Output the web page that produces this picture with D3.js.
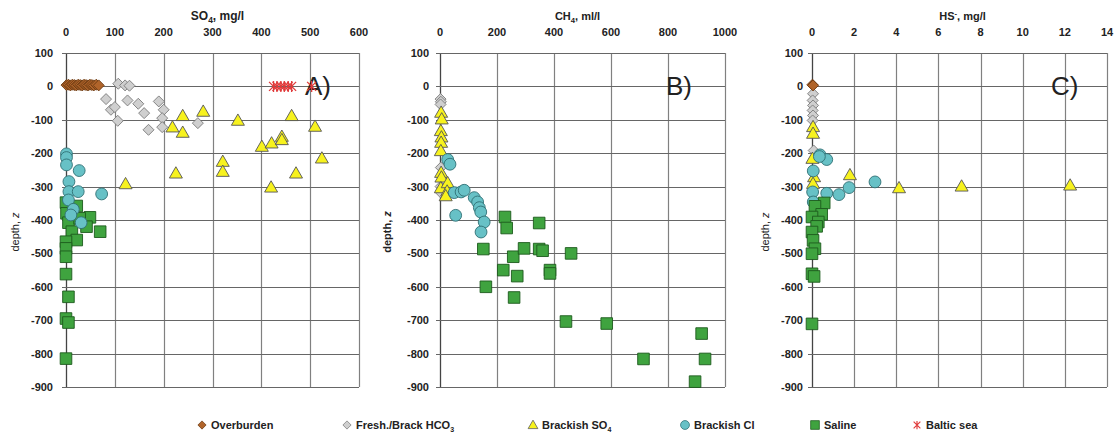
<!DOCTYPE html>
<html>
<head>
<meta charset="utf-8">
<script src="https://cdn.jsdelivr.net/npm/d3@7"></script>
<style>
  body { margin: 0; background: #fff; }
  text { font-family: "Liberation Sans", Arial, sans-serif; fill: #222; }
</style>
</head>
<body>
<div id="chart"></div>
<script>
// values: [concentration, depth]
var so4Overburden = [[1,4],[5,5],[9,3],[13,5],[17,4],[21,3],[25,5],[29,4],[33,3],[37,5],[41,4],[45,3],[49,5],[53,4],[57,3],[62,5],[67,3]];
var so4Fresh = [[107,8],[121,3],[130,2],[82,-38],[92,-70],[100,-62],[106,-103],[126,-42],[148,-52],[160,-80],[169,-130],[190,-45],[200,-70],[197,-95],[197,-122],[270,-110]];
var so4Brackish = [[239,-88],[281,-75],[218,-122],[239,-138],[352,-102],[462,-88],[510,-120],[401,-180],[421,-170],[442,-150],[442,-160],[524,-215],[321,-225],[321,-255],[225,-260],[471,-260],[122,-292],[420,-302]];
var so4Cl = [[1,-202],[1,-213],[1,-235],[27,-252],[6,-285],[6,-315],[25,-315],[73,-322],[5,-340],[15,-368],[10,-385],[31,-408]];
var so4Saline = [[0,-348],[22,-358],[1,-380],[5,-408],[49,-392],[42,-420],[28,-395],[12,-435],[22,-460],[70,-435],[0,-465],[0,-485],[0,-510],[0,-562],[5,-630],[0,-695],[5,-707],[0,-815]];
var so4Baltic = [[425,0],[432,0],[440,0],[447,0],[455,0],[462,0],[503,0]];

var ch4Fresh = [[2,-38],[3,-46],[2,-54],[3,-243],[2,-300],[3,-318]];
var ch4Brackish = [[4,-78],[6,-98],[3,-133],[5,-152],[4,-168],[3,-193],[4,-258],[5,-272],[3,-304],[27,-289],[25,-314],[20,-328]];
var ch4Cl = [[27,-219],[35,-233],[50,-318],[74,-316],[85,-311],[120,-333],[132,-346],[138,-363],[143,-376],[155,-406],[144,-436],[55,-386]];
var ch4Saline = [[152,-487],[161,-600],[228,-391],[234,-424],[222,-550],[257,-510],[295,-485],[271,-568],[260,-632],[348,-409],[348,-487],[360,-492],[386,-550],[386,-560],[460,-500],[442,-704],[585,-710],[714,-816],[918,-740],[930,-816],[895,-884]];

var hsOverburden = [[0.02,5],[0.05,3]];
var hsFresh = [[0.05,-22],[0.03,-42],[0.05,-57],[0.03,-72],[0.05,-87],[0.03,-102],[0.08,-192]];
var hsBrackish = [[0.05,-121],[0.05,-141],[0.02,-216],[0.1,-271],[0.05,-291],[1.8,-265],[4.13,-304],[7.1,-299],[12.25,-296]];
var hsCl = [[0.38,-205],[0.7,-219],[0.35,-210],[0.06,-253],[0.03,-316],[0.7,-320],[1.28,-324],[1.76,-303],[2.99,-286],[0.06,-346]];
var hsSaline = [[0.58,-349],[0.14,-359],[0.46,-383],[0,-391],[0.3,-406],[0.22,-419],[0,-436],[0.05,-461],[0.14,-486],[0,-501],[0,-561],[0.1,-569],[0,-711]];

var depthTicks = [100,0,-100,-200,-300,-400,-500,-600,-700,-800,-900];
var so4Ticks = [0,100,200,300,400,500,600];
var ch4Ticks = [0,200,400,600,800,1000];
var hsTicks = [0,2,4,6,8,10,12,14];

var legendNames = ["Overburden","Fresh./Brack HCO","Brackish SO","Brackish Cl","Saline","Baltic sea"];
var legendSubs = ["","3","4","","",""];
var legendKeys = ["over","fresh","brack","cl","saline","baltic"];

var W = 1117, H = 437;
var svg = d3.select("#chart").append("svg").attr("width", W).attr("height", H);

var style = {
  over:   {fill:"#b0642a", stroke:"#6b3a12"},
  fresh:  {fill:"#cfcfcf", stroke:"#7a7a7a"},
  brack:  {fill:"#f7f21e", stroke:"#555"},
  cl:     {fill:"#67c1c6", stroke:"#2f6f74"},
  saline: {fill:"#3fa33f", stroke:"#1d5a1d"},
  baltic: {fill:"none", stroke:"#e03a3a"}
};

function markerPath(key) {
  if (key == "over") return "M0,-5.5L5.5,0L0,5.5L-5.5,0Z";
  if (key == "fresh") return "M0,-5.5L5.5,0L0,5.5L-5.5,0Z";
  if (key == "brack") return "M0,-6.5L6.5,4.8L-6.5,4.8Z";
  if (key == "cl") return d3.symbol().type(d3.symbolCircle).size(110)();
  if (key == "saline") return "M-5.8,-5.8H5.8V5.8H-5.8Z";
  return "M-4.5,-4.5L4.5,4.5M-4.5,4.5L4.5,-4.5M0,-5.5V5.5";
}

function drawPanel(p) {
  var x = d3.scaleLinear().domain(p.xdom).range([p.left, p.right]);
  var y = d3.scaleLinear().domain([100,-900]).range([53, 387]);
  var g = svg.append("g");

  g.append("g").selectAll("line.v").data(p.xticks).enter().append("line")
    .attr("x1", d => Math.round(x(d)) + 0.5).attr("x2", d => Math.round(x(d)) + 0.5)
    .attr("y1", y(100)).attr("y2", y(-900))
    .attr("stroke", d => d == 0 ? "#444" : "#808080").attr("stroke-width", d => d == 0 ? 1.3 : 1.2);
  g.append("g").selectAll("line.h").data(depthTicks).enter().append("line")
    .attr("x1", p.left - 4).attr("x2", p.right)
    .attr("y1", d => Math.round(y(d)) + 0.5).attr("y2", d => Math.round(y(d)) + 0.5)
    .attr("stroke", "#666").attr("stroke-width", 1.2);

  g.selectAll("text.xt").data(p.xticks).enter().append("text")
    .attr("x", d => x(d)).attr("y", 36).attr("text-anchor", "middle")
    .attr("font-size", 11).attr("font-weight", "bold").text(d => d);
  g.selectAll("text.yt").data(depthTicks).enter().append("text")
    .attr("x", p.left - p.tickGap).attr("y", d => y(d) + 4).attr("text-anchor", "end")
    .attr("font-size", 11).attr("font-weight", "bold").text(d => d);

  var t = g.append("text").attr("x", (p.left + p.right) / 2 + p.titleShift).attr("y", 20)
    .attr("text-anchor", "middle").attr("font-size", p.titleSize).attr("font-weight", "bold");
  t.append("tspan").text(p.title[0]);
  t.append("tspan").attr("font-size", p.titleSize * 0.7).attr("dy", p.title[2] == "sub" ? 3 : -4).text(p.title[1]);
  t.append("tspan").attr("dy", p.title[2] == "sub" ? -3 : 4).text(p.title[3]);

  var yl = g.append("text").attr("transform", "translate(" + p.ylabX + ",232) rotate(-90)")
    .attr("text-anchor", "middle").attr("font-size", 11).attr("font-weight", p.ylabW);
  yl.append("tspan").text("depth, ");
  yl.append("tspan").attr("font-style", "italic").text("z");

  g.append("text").attr("x", p.tagX).attr("y", 95).attr("font-size", 26).text(p.tag);

  p.series.forEach(function(s) {
    g.append("g").selectAll("path").data(s.data).enter().append("path")
      .attr("transform", d => "translate(" + x(d[0]) + "," + y(d[1]) + ")")
      .attr("d", markerPath(s.key))
      .attr("fill", style[s.key].fill).attr("stroke", style[s.key].stroke)
      .attr("stroke-width", s.key == "baltic" ? 1.3 : 0.9);
  });
}

drawPanel({left:66, right:359, xdom:[0,600], xticks:so4Ticks, tickGap:13, title:["SO","4",
  "sub",", mg/l"], titleSize:12, titleShift:5, ylabX:19, ylabW:"normal", tag:"A)", tagX:305,
  series:[{key:"over",data:so4Overburden},{key:"fresh",data:so4Fresh},{key:"brack",data:so4Brackish},
          {key:"saline",data:so4Saline},{key:"cl",data:so4Cl},{key:"baltic",data:so4Baltic}]});

drawPanel({left:440, right:725, xdom:[0,1000], xticks:ch4Ticks, tickGap:11, title:["CH","4",
  "sub",", ml/l"], titleSize:11, titleShift:-5, ylabX:391, ylabW:"bold", tag:"B)", tagX:666,
  series:[{key:"fresh",data:ch4Fresh},{key:"brack",data:ch4Brackish},
          {key:"saline",data:ch4Saline},{key:"cl",data:ch4Cl}]});

drawPanel({left:812, right:1107, xdom:[0,14], xticks:hsTicks, tickGap:9, title:["HS","-",
  "sup",", mg/l"], titleSize:11, titleShift:3, ylabX:769, ylabW:"normal", tag:"C)", tagX:1051,
  series:[{key:"fresh",data:hsFresh},{key:"over",data:hsOverburden},{key:"brack",data:hsBrackish},
          {key:"cl",data:hsCl},{key:"saline",data:hsSaline}]});

// legend
var legX = [202, 347, 533, 685, 815, 917];
var leg = svg.append("g");
legendKeys.forEach(function(k, i) {
  var it = leg.append("g").attr("transform", "translate(" + legX[i] + ",425)");
  it.append("path").attr("d", markerPath(k)).attr("transform", "scale(0.75)")
    .attr("fill", style[k].fill).attr("stroke", style[k].stroke)
    .attr("stroke-width", k == "baltic" ? 1.5 : 1);
  var tx = it.append("text").attr("x", 9).attr("y", 4).attr("font-size", 11).attr("font-weight", "bold");
  tx.append("tspan").text(legendNames[i]);
  if (legendSubs[i]) tx.append("tspan").attr("font-size", 7).attr("dy", 3).text(legendSubs[i]);
});
</script>
</body>
</html>
